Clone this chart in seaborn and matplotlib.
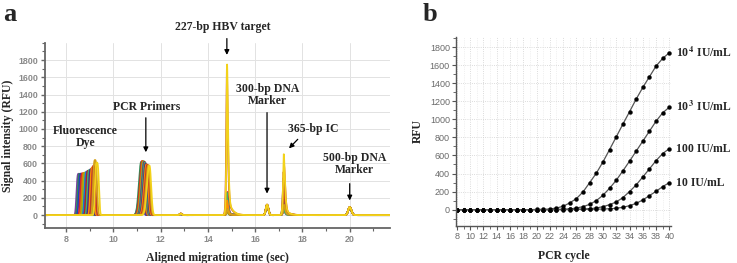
import numpy as np
import pandas as pd
import matplotlib
matplotlib.use("Agg")
import matplotlib.pyplot as plt
import seaborn as sns
from matplotlib.ticker import MultipleLocator

# ---------------- Panel a data (peak parameters) ----------------
trace_colors = ['#7b3fa0', '#2e8b57', '#1f3fbf', '#d62728', '#e07b00', '#8fbc1f',
                '#1e6fd9', '#b22222', '#3cb371', '#4b2a8a', '#ff8c00', '#c0392b',
                '#d4a017', '#f2d21b']
dye_pos = [8.52, 8.57, 8.62, 8.68, 8.74, 8.80, 8.86, 8.92, 8.98, 9.04, 9.10, 9.16, 9.22, 9.30]
dye_height = [480, 480, 482, 486, 490, 495, 505, 515, 525, 535, 555, 575, 640, 610]
primer_pos = [11.16, 11.18, 11.20, 11.22, 11.25, 11.28, 11.30, 11.32, 11.34, 11.37, 11.40, 11.44, 11.48, 11.52]
primer_height = [300, 620, 200, 630, 628, 625, 622, 618, 610, 600, 590, 585, 580, 575]
target_pos = [14.80, 14.81, 14.80, 14.82, 14.81, 14.80, 14.82, 14.81, 14.80, 14.82, 14.81, 14.80, 14.82, 14.81]
target_height = [60, 120, 90, 270, 150, 40, 200, 80, 260, 110, 170, 1700, 70, 1750]
ic_pos = [17.20, 17.21, 17.20, 17.22, 17.21, 17.20, 17.22, 17.21, 17.20, 17.22, 17.21, 17.20, 17.22, 17.21]
ic_height = [60, 200, 430, 580, 150, 100, 300, 250, 90, 180, 380, 500, 120, 710]
marker300_height = [112, 115, 118, 120, 114, 116, 119, 121, 113, 117, 120, 118, 122, 120]
marker500_height = [86, 88, 90, 92, 87, 89, 91, 93, 88, 90, 92, 91, 94, 92]
minor_bump_height = [12, 15, 14, 18, 13, 16, 15, 17, 14, 16, 18, 15, 17, 16]

# ---------------- Panel b data ----------------
cycles = list(range(8, 41))
rfu_1e4 = [0, 0, 0, 0, 0, 0, 0, 0, 0, 0, 0, 0, 2, 3,
           7, 18, 37, 75, 122, 196, 299, 403, 528, 665, 805, 946, 1083, 1223, 1352, 1471, 1589, 1674, 1737]
rfu_1e3 = [0, 0, 0, 0, 0, 0, 0, 0, 0, 0, 0, 0, 0, 0, 1, 2,
           4, 8, 18, 33, 59, 100, 159, 237, 325, 429, 536, 647, 758, 868, 979, 1072, 1134]
rfu_100 = [0, 0, 0, 0, 0, 0, 0, 0, 0, 0, 0, 0, 0, 0, 0, 1, 2, 3, 5,
           7, 11, 18, 33, 55, 85, 133, 200, 273, 362, 451, 543, 621, 676]
rfu_10 = [0, 0, 0, 0, 0, 0, 0, 0, 0, 0, 0, 0, 0, 0, 0, 0, 0, 1, 2, 3, 4, 5,
          7, 10, 15, 26, 44, 70, 107, 155, 203, 255, 299]
series_labels = [r'10$^{\,\mathbf{4}}$ IU/mL', r'10$^{\,\mathbf{3}}$ IU/mL', '100 IU/mL', '10 IU/mL']


def peak(x, c, h, wl, wr, p=2.0):
    w = np.where(x < c, wl, wr)
    return h * np.exp(-np.abs((x - c) / w) ** p)


def tailed(x, c, h, w_sharp, w_tail):
    # sharp electrophoretic peak with a slowly decaying right-hand tail
    return (peak(x, c, h * 0.9, w_sharp, w_sharp * 1.6, 1.5)
            + peak(x, c, h * 0.1, w_sharp * 1.5, w_tail, 1.3))


sns.set_theme(style="white")
plt.rcParams['font.family'] = ['Liberation Serif', 'DejaVu Serif']
plt.rcParams['mathtext.fontset'] = 'stix'

fig = plt.figure(figsize=(7.37, 2.63), dpi=100)

# ---------------- Panel a ----------------
axa = fig.add_axes([0.061, 0.133, 0.468, 0.704])
t = np.linspace(7.15, 21.7, 3500)
rows = []
for i in range(len(trace_colors)):
    y = (peak(t, dye_pos[i], dye_height[i], 0.10, 0.10, 3)
         + peak(t, primer_pos[i], primer_height[i], 0.14, 0.10, 2.2)
         + peak(t, 12.85, minor_bump_height[i], 0.06, 0.06)
         + tailed(t, target_pos[i], target_height[i], 0.035, 0.22)
         + peak(t, 16.5, marker300_height[i], 0.07, 0.08)
         + tailed(t, ic_pos[i], ic_height[i], 0.04, 0.22)
         + peak(t, 20.0, marker500_height[i], 0.09, 0.10))
    rows.append(pd.DataFrame({'time': t, 'signal': y, 'trace': i}))
dfa = pd.concat(rows, ignore_index=True)
sns.lineplot(data=dfa, x='time', y='signal', hue='trace', palette=trace_colors,
             legend=False, ax=axa, lw=1.3, estimator=None, sort=False)

axa.set_xlim(7.1, 21.7)
axa.set_ylim(-150, 2000)
axa.xaxis.set_major_locator(MultipleLocator(2))
axa.xaxis.set_minor_locator(MultipleLocator(1))
axa.yaxis.set_major_locator(MultipleLocator(200))
axa.yaxis.set_minor_locator(MultipleLocator(100))
axa.set_yticks(range(0, 1801, 200))
axa.grid(True, which='major', color='#e2e2e2', lw=0.7)
for s in ['top', 'right']:
    axa.spines[s].set_visible(False)
for s in ['left', 'bottom']:
    axa.spines[s].set_color('#666666')
    axa.spines[s].set_linewidth(1.3)
axa.tick_params(which='both', direction='out', color='#666666', left=True, bottom=True)
axa.tick_params(which='major', length=3, width=1, labelsize=6.4, labelcolor='#8a8a8a', pad=2)
axa.tick_params(which='minor', length=2, width=0.8)
for lab in axa.get_xticklabels() + axa.get_yticklabels():
    lab.set_fontfamily('Liberation Sans')
    lab.set_fontweight('bold')
axa.set_xlabel('Aligned migration time (sec)', fontsize=8.5, fontweight='bold', labelpad=6)
axa.set_ylabel('Signal intensity (RFU)', fontsize=8.5, fontweight='bold', labelpad=3)

arrow = dict(arrowstyle='-|>', color='black', lw=0.9, mutation_scale=7, shrinkA=0, shrinkB=0)
tk = dict(fontsize=8.5, fontweight='bold', ha='center', va='center', annotation_clip=False)
axa.annotate('227-bp HBV target', xy=(14.8, 1860), xytext=(14.63, 2180), **tk)
axa.annotate('', xy=(14.8, 1860), xytext=(14.8, 2050), arrowprops=arrow, annotation_clip=False)
axa.annotate('PCR Primers', xy=(11.37, 730), xytext=(11.4, 1256), **tk)
axa.annotate('', xy=(11.37, 730), xytext=(11.37, 1130), arrowprops=arrow)
axa.text(8.82, 905, 'Fluorescence\nDye', fontsize=8.5, fontweight='bold', ha='center', va='center',
         linespacing=1.0)
axa.text(16.53, 1395, '300-bp DNA\nMarker', fontsize=8.5, fontweight='bold', ha='center', va='center',
         linespacing=1.0)
axa.annotate('', xy=(16.5, 250), xytext=(16.5, 1190), arrowprops=arrow)
axa.text(18.44, 1000, '365-bp IC', fontsize=8.5, fontweight='bold', ha='center', va='center')
axa.annotate('', xy=(17.43, 775), xytext=(17.8, 880), arrowprops=arrow)
axa.text(20.2, 588, '500-bp DNA\nMarker', fontsize=8.5, fontweight='bold', ha='center', va='center',
         linespacing=1.0)
axa.annotate('', xy=(20.0, 170), xytext=(20.0, 365), arrowprops=arrow)

# ---------------- Panel b ----------------
axb = fig.add_axes([0.619, 0.141, 0.291, 0.718])
for vals, lab in zip([rfu_1e4, rfu_1e3, rfu_100, rfu_10], series_labels):
    sns.lineplot(x=cycles, y=vals, ax=axb, color='#555555', lw=0.9, marker='o', markersize=2.8,
                 markerfacecolor='black', markeredgecolor='black', markeredgewidth=0.3)
    axb.text(41.0, vals[-1], lab, fontsize=8.5, fontweight='bold', ha='left', va='center',
             clip_on=False)

axb.set_xlim(7.9, 40.2)
axb.set_ylim(-180, 1910)
axb.xaxis.set_major_locator(MultipleLocator(2))
axb.xaxis.set_minor_locator(MultipleLocator(1))
axb.yaxis.set_major_locator(MultipleLocator(200))
axb.yaxis.set_minor_locator(MultipleLocator(100))
axb.set_yticks(range(0, 1801, 200))
axb.set_xticks(range(8, 41, 2))
axb.grid(True, which='major', color='#d0d0d0', lw=0.6, ls=':')
axb.grid(True, which='minor', axis='x', color='#e4e4e4', lw=0.5, ls=':')
for s in ['top', 'right']:
    axb.spines[s].set_visible(False)
for s in ['left', 'bottom']:
    axb.spines[s].set_color('#555555')
    axb.spines[s].set_linewidth(1.0)
axb.tick_params(which='both', direction='out', color='#555555', left=True, bottom=True)
axb.tick_params(which='major', length=3, width=0.8, labelsize=6.5, labelcolor='#6a6a6a', pad=1.5)
axb.tick_params(which='minor', length=2, width=0.6)
for lab in axb.get_xticklabels() + axb.get_yticklabels():
    lab.set_fontfamily('Liberation Sans')
axb.set_xlabel('PCR cycle', fontsize=8.5, fontweight='bold', labelpad=6)
axb.set_ylabel('RFU', fontsize=8.5, fontweight='bold', labelpad=4)

fig.text(0.004, 0.99, 'a', fontsize=19, fontweight='bold', ha='left', va='top')
fig.text(0.573, 0.99, 'b', fontsize=19, fontweight='bold', ha='left', va='top')

fig.savefig('out.png', dpi=100)
